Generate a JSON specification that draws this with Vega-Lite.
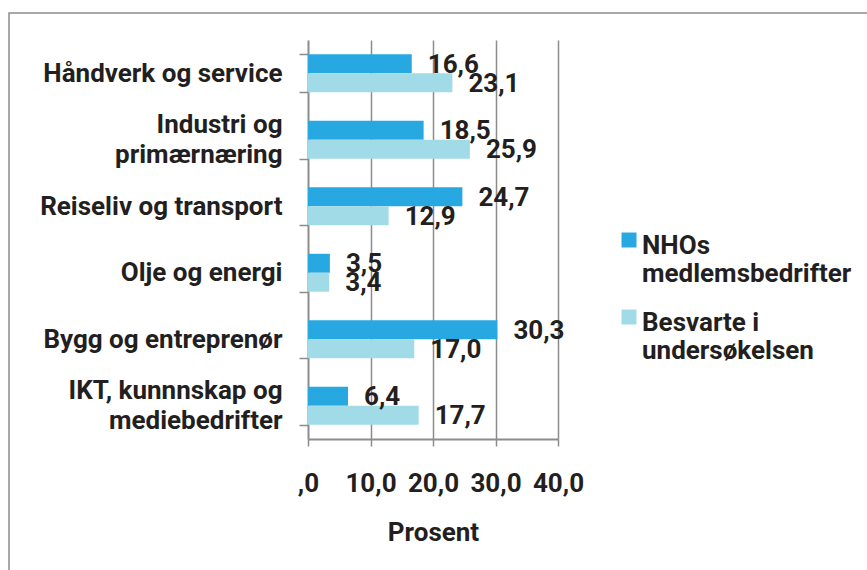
{
  "$schema": "https://vega.github.io/schema/vega-lite/v6.json",
  "width": 860,
  "height": 559,
  "autosize": "none",
  "padding": {"left": 9, "top": 13, "right": -2, "bottom": -2},
  "background": "white",
  "config": {
    "locale": {"number": {"decimal": ",", "thousands": " ", "grouping": [3], "currency": ["", ""]}},
    "view": {"stroke": "#8c8c8c", "strokeWidth": 1.5},
    "font": "Roboto"
  },
  "data": {
    "values": [
      {"kategori": "Håndverk og service", "serie": "NHOs medlemsbedrifter", "verdi": 16.6},
      {"kategori": "Håndverk og service", "serie": "Besvarte i undersøkelsen", "verdi": 23.1},
      {"kategori": "Industri og primærnæring", "serie": "NHOs medlemsbedrifter", "verdi": 18.5},
      {"kategori": "Industri og primærnæring", "serie": "Besvarte i undersøkelsen", "verdi": 25.9},
      {"kategori": "Reiseliv og transport", "serie": "NHOs medlemsbedrifter", "verdi": 24.7},
      {"kategori": "Reiseliv og transport", "serie": "Besvarte i undersøkelsen", "verdi": 12.9},
      {"kategori": "Olje og energi", "serie": "NHOs medlemsbedrifter", "verdi": 3.5},
      {"kategori": "Olje og energi", "serie": "Besvarte i undersøkelsen", "verdi": 3.4},
      {"kategori": "Bygg og entreprenør", "serie": "NHOs medlemsbedrifter", "verdi": 30.3},
      {"kategori": "Bygg og entreprenør", "serie": "Besvarte i undersøkelsen", "verdi": 17.0},
      {"kategori": "IKT, kunnnskap og mediebedrifter", "serie": "NHOs medlemsbedrifter", "verdi": 6.4},
      {"kategori": "IKT, kunnnskap og mediebedrifter", "serie": "Besvarte i undersøkelsen", "verdi": 17.7}
    ]
  },
  "encoding": {
    "y": {
      "field": "kategori",
      "type": "nominal",
      "sort": null,
      "scale": {"range": [27, 426], "paddingInner": 0.43, "paddingOuter": 0.215},
      "axis": {
        "title": null,
        "offset": -299,
        "tickBand": "extent",
        "tickSize": 9,
        "tickColor": "#8c8c8c",
        "tickWidth": 1.5,
        "domainColor": "#8c8c8c",
        "domainWidth": 2,
        "grid": false,
        "labelPadding": 17,
        "labelFontSize": 26,
        "labelFontWeight": "bold",
        "labelColor": "#231f20",
        "labelLineHeight": 30,
        "labelLimit": 400,
        "labelOverlap": false,
        "labelOffset": {"condition": {"test": "datum.value == 'Industri og primærnæring' || datum.value == 'IKT, kunnnskap og mediebedrifter'", "value": -15}, "value": 0},
        "labelExpr": "datum.label == 'Industri og primærnæring' ? ['Industri og', 'primærnæring'] : datum.label == 'IKT, kunnnskap og mediebedrifter' ? ['IKT, kunnnskap og', 'mediebedrifter'] : datum.label"
      }
    },
    "yOffset": {"field": "serie", "type": "nominal", "sort": null, "scale": {"domain": ["NHOs medlemsbedrifter", "Besvarte i undersøkelsen"]}}
  },
  "resolve": {"axis": {"x": "independent"}},
  "layer": [
    {
      "mark": {"type": "bar"},
      "encoding": {
        "x": {
          "field": "verdi",
          "type": "quantitative",
          "scale": {"domain": [0, 40], "range": [299, 549], "nice": false},
          "axis": {
            "orient": "bottom",
            "title": "Prosent",
            "offset": -133,
            "values": [0, 10, 20, 30, 40],
            "format": ".1f",
            "labelExpr": "datum.value === 0 ? ',0' : datum.label",
            "tickSize": 7,
            "tickColor": "#8c8c8c",
            "tickWidth": 1.5,
            "domainColor": "#8c8c8c",
            "domainWidth": 2,
            "grid": false,
            "labelPadding": 24,
            "labelFontSize": 26,
            "labelFontWeight": "bold",
            "labelColor": "#231f20",
            "labelFlush": false,
            "labelOverlap": false,
            "titleFontSize": 26,
            "titleFontWeight": "bold",
            "titleColor": "#231f20",
            "titlePadding": 23
          }
        },
        "color": {
          "field": "serie",
          "type": "nominal",
          "sort": null,
          "scale": {"domain": ["NHOs medlemsbedrifter", "Besvarte i undersøkelsen"], "range": ["#27a8e0", "#a1dbe8"]},
          "legend": {
            "orient": "none",
            "legendX": 607,
            "legendY": 214,
            "title": null,
            "padding": 0,
            "symbolType": "square",
            "symbolSize": 225,
            "symbolStrokeWidth": 0,
            "labelFontSize": 26,
            "labelFontWeight": "bold",
            "labelColor": "#231f20",
            "labelOffset": 0,
            "labelLimit": 300,
            "labelLineHeight": 30,
            "rowPadding": 17,
            "labelExpr": "datum.label == 'NHOs medlemsbedrifter' ? ['NHOs', 'medlemsbedrifter'] : ['Besvarte i', 'undersøkelsen']",
            "encode": {"labels": {"update": {"dy": {"value": 6}}}}
          }
        }
      }
    },
    {
      "mark": {"type": "text", "align": "left", "baseline": "middle", "dx": 16, "dy": 1, "fontSize": 26, "fontWeight": "bold", "color": "#231f20"},
      "encoding": {
        "x": {
          "field": "verdi",
          "type": "quantitative",
          "axis": {
            "orient": "top",
            "title": null,
            "values": [10, 20, 30, 40],
            "grid": true,
            "gridColor": "#8c8c8c",
            "gridWidth": 1.5,
            "domain": false,
            "ticks": false,
            "labels": false
          }
        },
        "text": {"field": "verdi", "type": "quantitative", "format": ".1f"}
      }
    }
  ]
}
